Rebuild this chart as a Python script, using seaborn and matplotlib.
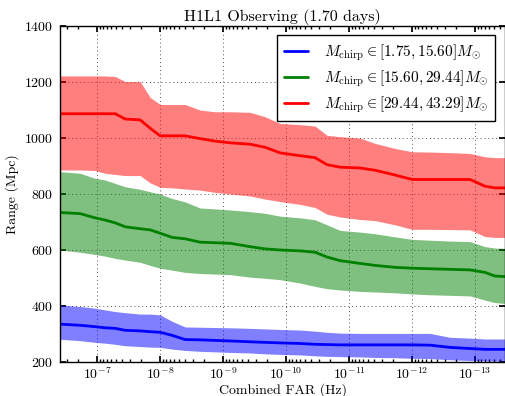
import numpy as np
import pandas as pd
import matplotlib
matplotlib.use("Agg")
import matplotlib.pyplot as plt
import seaborn as sns

# Combined false-alarm rate (Hz) at which the sensitive range was evaluated
far = [3.87e-7, 1.86e-7, 1.08e-7, 7.47e-8, 5.18e-8, 3.59e-8, 2.08e-8, 1.44e-8,
       1.0e-8, 6.45e-9, 4.01e-9, 2.32e-9, 1.34e-9, 7.74e-10, 3.73e-10, 2.15e-10,
       1.24e-10, 6.0e-11, 3.47e-11, 2.24e-11, 1.39e-11, 6.69e-12, 3.87e-12,
       1.86e-12, 1.0e-12, 5.18e-13, 2.49e-13, 1.20e-13, 6.94e-14, 4.82e-14, 3.34e-14]

# Chirp-mass bins
labels = [r"$M_{\rm chirp} \in [1.75, 15.60] M_{\odot}$",
          r"$M_{\rm chirp} \in [15.60, 29.44] M_{\odot}$",
          r"$M_{\rm chirp} \in [29.44, 43.29] M_{\odot}$"]

# Range (Mpc): central estimate and error band for each bin
low_mid = [335, 331, 326, 322, 320, 313, 311, 308, 306, 295, 280, 279, 277, 275, 272, 270,
           268, 266, 263, 262, 261, 261, 261, 261, 261, 260, 252, 248, 245, 245, 245]
low_hi = [403, 398, 392, 386, 380, 376, 371, 371, 368, 345, 325, 324, 323, 322, 320, 318,
          316, 314, 310, 306, 303, 302, 302, 302, 302, 302, 288, 285, 282, 282, 282]
low_lo = [281, 276, 270, 267, 263, 258, 255, 253, 252, 246, 241, 238, 236, 234, 232, 229,
          227, 225, 222, 220, 219, 218, 216, 215, 213, 212, 208, 205, 204, 203, 203]

mid_mid = [734, 730, 715, 707, 697, 683, 676, 672, 660, 645, 640, 628, 626, 624, 612, 604,
           600, 597, 592, 575, 562, 552, 545, 538, 535, 533, 531, 529, 520, 507, 505]
mid_hi = [880, 874, 856, 850, 838, 826, 817, 808, 800, 784, 772, 750, 747, 743, 737, 731,
          721, 715, 708, 690, 670, 664, 658, 647, 638, 635, 632, 630, 612, 607, 606]
mid_lo = [600, 592, 584, 578, 570, 564, 556, 545, 535, 528, 520, 516, 514, 512, 503, 499,
          494, 482, 470, 462, 457, 452, 450, 447, 443, 440, 438, 436, 421, 412, 409]

high_mid = [1087, 1087, 1087, 1087, 1087, 1068, 1065, 1035, 1008, 1008, 1008, 998, 989, 983,
            978, 967, 947, 937, 930, 905, 896, 893, 885, 868, 852, 852, 852, 852, 828, 822, 822]
high_hi = [1222, 1222, 1222, 1222, 1220, 1202, 1202, 1145, 1120, 1120, 1120, 1100, 1094, 1094,
           1092, 1076, 1052, 1048, 1043, 1010, 1005, 1000, 981, 963, 951, 950, 948, 945, 933, 930, 930]
high_lo = [886, 886, 884, 874, 870, 866, 866, 840, 824, 822, 818, 814, 806, 800, 793, 782,
           773, 763, 752, 728, 718, 709, 705, 690, 674, 674, 673, 672, 648, 645, 645]

colors = ["#0000ff", "#008000", "#ff0000"]

sns.set_theme(style="white")
plt.rcParams.update({
    "font.family": "serif",
    "font.serif": ["cmr10", "DejaVu Serif"],
    "mathtext.fontset": "cm",
    "axes.formatter.use_mathtext": True,
    "axes.edgecolor": "black",
    "axes.linewidth": 1.0,
    "xtick.direction": "in",
    "ytick.direction": "in",
    "xtick.top": True,
    "ytick.right": True,
    "xtick.bottom": True,
    "ytick.left": True,
    "xtick.major.size": 4,
    "ytick.major.size": 4,
    "xtick.minor.size": 2,
    "ytick.minor.size": 2,
    "xtick.color": "black",
    "ytick.color": "black",
    "text.color": "black",
    "axes.labelcolor": "black",
})

fig = plt.figure(figsize=(5.06, 3.96), dpi=100)
ax = fig.add_axes([0.119, 0.086, 0.879, 0.848])

df = pd.DataFrame({"far": far})
bands = [(low_mid, low_lo, low_hi), (mid_mid, mid_lo, mid_hi), (high_mid, high_lo, high_hi)]
for (mid, lo, hi), c, lab in zip(bands, colors, labels):
    ax.fill_between(far, lo, hi, color=c, alpha=0.5, linewidth=0)
    sns.lineplot(x=df["far"], y=mid, color=c, linewidth=2, label=lab, ax=ax,
                 estimator=None, sort=False)

ax.set_xscale("log")
ax.set_xlim(far[0], far[-1])
ax.set_ylim(200, 1400)
ax.set_yticks([200, 400, 600, 800, 1000, 1200, 1400])
ax.set_xticks([1e-7, 1e-8, 1e-9, 1e-10, 1e-11, 1e-12, 1e-13])
ax.grid(True, which="major", color="#555555", linestyle=(0, (1, 3)), linewidth=0.7)
ax.tick_params(axis="x", which="major", labelsize=10, pad=3)
ax.tick_params(axis="y", which="major", labelsize=10, pad=5)

ax.set_xlabel("Combined FAR (Hz)", fontsize=10, labelpad=1)
ax.set_ylabel("Range (Mpc)", fontsize=10, labelpad=4)
ax.set_title("H1L1 Observing (1.70 days)", fontsize=11.5, pad=4)

leg = ax.legend(loc="upper right", fontsize=11, frameon=True, fancybox=False,
                handlelength=1.6, handletextpad=1.0, borderpad=0.45, labelspacing=0.35,
                bbox_to_anchor=(0.995, 0.995))
leg.get_frame().set_edgecolor("black")
leg.get_frame().set_linewidth(1.0)
leg.get_frame().set_alpha(1.0)

fig.savefig("out.png", dpi=100)
